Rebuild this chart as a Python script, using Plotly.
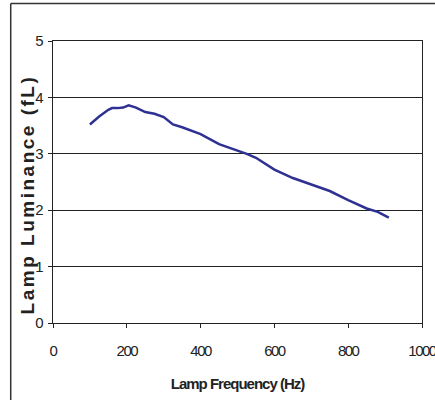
import plotly.graph_objects as go

freq = [100, 125, 150, 160, 175, 190, 205, 225, 250, 275, 300, 325, 350, 400, 450, 500, 525, 550, 600, 650, 700, 750, 800, 850, 880, 910]
lum = [3.52, 3.66, 3.78, 3.81, 3.81, 3.82, 3.86, 3.82, 3.74, 3.71, 3.65, 3.52, 3.47, 3.35, 3.17, 3.06, 3.00, 2.93, 2.72, 2.57, 2.46, 2.34, 2.18, 2.03, 1.97, 1.87]
x_ticks = [0, 200, 400, 600, 800, 1000]
y_ticks = [0, 1, 2, 3, 4, 5]

def narrow(s, sp=-1.5):
    return "<span style='letter-spacing:%spx'>%s</span>" % (sp, s)

fig = go.Figure()
fig.add_trace(go.Scatter(x=freq, y=lum, mode="lines",
                         line=dict(color="#2E3192", width=2.5), showlegend=False,
                         hoverinfo="skip"))

base = "Liberation Sans, Arial, sans-serif"
fig.update_layout(
    width=435, height=400, autosize=False,
    margin=dict(l=53, r=13, t=41, b=77),
    paper_bgcolor="white", plot_bgcolor="white",
    xaxis=dict(range=[0, 1000], tickvals=x_ticks, ticktext=[narrow(str(v)) for v in x_ticks],
               automargin=False, ticklabeloverflow="allow",
               showgrid=False, zeroline=False, showline=True, linecolor="#222", linewidth=1,
               mirror=True, ticks="outside", ticklen=4, tickcolor="#222",
               tickfont=dict(family=base, size=15, color="#222"), ticklabelstandoff=10,
               title=dict(text=narrow("Lamp Frequency (Hz)", -1),
                          font=dict(family=base, size=15, color="#222", weight="bold"),
                          standoff=20)),
    yaxis=dict(range=[0, 5], tickvals=y_ticks, ticktext=[narrow(str(v)) for v in y_ticks],
               automargin=False,
               showgrid=True, gridcolor="#222", gridwidth=1, zeroline=False,
               showline=True, linecolor="#222", linewidth=1, mirror=True,
               ticks="outside", ticklen=4, tickcolor="#222",
               tickfont=dict(family=base, size=15, color="#222"), ticklabelstandoff=3),
)
fig.add_annotation(text="<span style='letter-spacing:2.5px'>Lamp Luminance (fL)</span>",
                   xref="paper", yref="paper", x=-0.0686, y=0.455, xanchor="center",
                   yanchor="middle", textangle=-90, showarrow=False,
                   font=dict(family=base, size=19, color="#222", weight="bold"))
# outer chart frame (only its top and left edges are inside the picture)
frame = dict(color="#333", width=1.5)
fig.add_shape(type="line", xref="paper", yref="paper", x0=-0.1146, x1=1.5, y0=1.1334, y1=1.1334,
              line=frame, layer="below")
fig.add_shape(type="line", xref="paper", yref="paper", x0=-0.1146, x1=-0.1146, y0=-0.5, y1=1.1334,
              line=frame, layer="below")
fig.write_html("out.html", config={"displayModeBar": False},
               post_script="document.body.style.margin='0';document.body.style.overflow='hidden';"
                           "document.documentElement.style.overflow='hidden';")
